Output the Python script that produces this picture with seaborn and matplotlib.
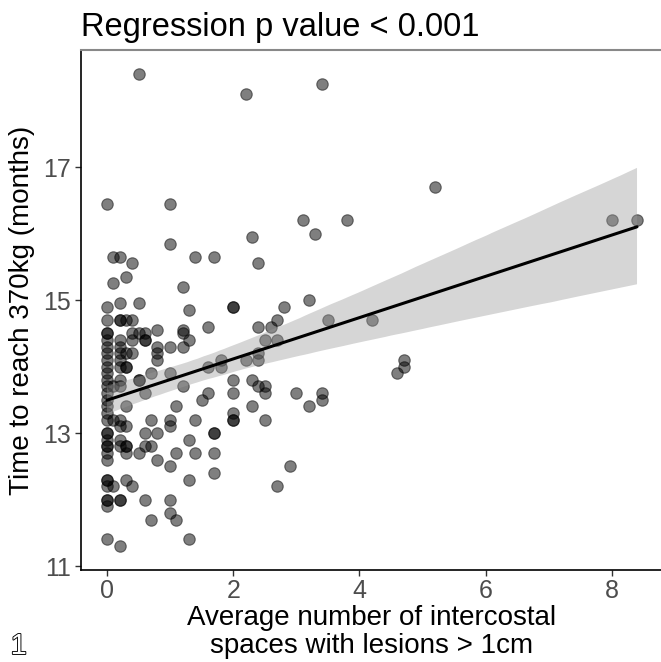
import numpy as np
import pandas as pd
import matplotlib
matplotlib.use("Agg")
import matplotlib.pyplot as plt
import matplotlib.patheffects as pe
import seaborn as sns

# average number of intercostal spaces with lesions > 1cm (x) and time to 370kg (y)
lesions = (
    [0.0] * 32 + [0.1] * 5 + [0.2] * 18 + [0.3] * 11 + [0.4] * 6 + [0.5] * 6
    + [0.6] * 7 + [0.7] * 4 + [0.8] * 6 + [1.0] * 9 + [1.1] * 3 + [1.2] * 5
    + [1.3] * 5 + [1.4] * 3 + [1.5] + [1.6] * 3 + [1.7] * 5 + [1.8] * 2
    + [2.0] * 7 + [2.2] * 2 + [2.3] * 3 + [2.4] * 5 + [2.5] * 4 + [2.6]
    + [2.7] * 3 + [2.8] + [2.9] + [3.0] + [3.1] + [3.2] * 2 + [3.3]
    + [3.4] * 3 + [3.5] + [3.8] + [4.2] + [4.6] + [4.7] * 2 + [5.2]
    + [8.0] + [8.4]
)
months = [
    # x = 0
    16.45, 14.9, 14.7, 14.5, 14.5, 14.4, 14.3, 14.2, 14.1, 14.0, 13.9, 13.8,
    13.7, 13.6, 13.5, 13.4, 13.3, 13.2, 13.0, 13.0, 12.9, 12.8, 12.8, 12.7,
    12.6, 12.3, 12.3, 12.2, 12.0, 12.0, 11.9, 11.4,
    # x = 0.1
    15.65, 15.25, 13.7, 13.2, 12.2,
    # x = 0.2
    15.65, 14.95, 14.7, 14.7, 14.4, 14.3, 14.2, 14.1, 14.0, 13.8, 13.7, 13.2,
    13.1, 12.9, 12.8, 12.0, 12.0, 11.3,
    # x = 0.3
    15.35, 14.7, 14.2, 14.0, 14.0, 13.4, 13.1, 12.8, 12.8, 12.7, 12.3,
    # x = 0.4
    15.55, 14.7, 14.5, 14.4, 14.2, 12.2,
    # x = 0.5
    18.4, 14.95, 14.5, 13.8, 13.8, 12.7,
    # x = 0.6
    14.5, 14.4, 14.4, 13.6, 13.0, 12.8, 12.0,
    # x = 0.7
    13.9, 13.2, 12.8, 11.7,
    # x = 0.8
    14.55, 14.3, 14.2, 14.1, 13.0, 12.6,
    # x = 1.0
    16.45, 15.85, 14.3, 13.9, 13.2, 13.1, 12.5, 12.0, 11.8,
    # x = 1.1
    13.4, 12.7, 11.7,
    # x = 1.2
    15.2, 14.55, 14.5, 14.3, 13.7,
    # x = 1.3
    14.85, 14.4, 12.9, 12.3, 11.4,
    # x = 1.4
    15.65, 13.2, 12.7,
    # x = 1.5
    13.5,
    # x = 1.6
    14.6, 14.0, 13.6,
    # x = 1.7
    15.65, 13.0, 13.0, 12.7, 12.4,
    # x = 1.8
    14.1, 14.0,
    # x = 2.0
    14.9, 14.9, 13.8, 13.6, 13.3, 13.2, 13.2,
    # x = 2.2
    18.1, 14.1,
    # x = 2.3
    15.95, 13.8, 13.4,
    # x = 2.4
    15.55, 14.6, 14.2, 14.1, 13.7,
    # x = 2.5
    14.4, 13.7, 13.6, 13.2,
    # x = 2.6
    14.6,
    # x = 2.7
    14.7, 14.4, 12.2,
    # x = 2.8 .. 8.4
    14.9, 12.5, 13.6, 16.2, 15.0, 13.4, 16.0, 18.25, 13.6, 13.5, 14.7, 16.2,
    14.7, 13.9, 14.1, 14.0, 16.7, 16.2, 16.2,
]

x_ticks = [0, 2, 4, 6, 8]
y_ticks = [11, 13, 15, 17]

df = pd.DataFrame({"lesions": lesions, "months": months})

sns.set_theme(style="white")
plt.rcParams["font.family"] = ["Liberation Sans", "DejaVu Sans"]

fig = plt.figure(figsize=(6.61, 6.62), dpi=100)
ax = fig.add_axes([0.1218, 0.1394, 0.882, 0.7846])

sns.regplot(data=df, x="lesions", y="months", ax=ax, ci=95, n_boot=2000, seed=3,
            scatter_kws=dict(s=68, color="black", alpha=0.5, edgecolor="black",
                             linewidths=0.8),
            line_kws=dict(color="black", linewidth=2.2))

# ggplot-like grey confidence band
for coll in ax.collections[1:]:
    coll.set_alpha(0.4)
    coll.set_facecolor((0.6, 0.6, 0.6))
    coll.set_edgecolor("none")

ax.set_xlim(-0.42, 8.82)
ax.set_ylim(10.945, 18.755)
ax.set_xticks(x_ticks)
ax.set_yticks(y_ticks)
ax.tick_params(axis="both", which="both", length=4, width=1.0, color="#333333",
               labelsize=18, labelcolor="#4d4d4d", bottom=True, left=True, pad=3)

for side in ["left", "bottom"]:
    ax.spines[side].set_color("black")
    ax.spines[side].set_linewidth(1.2)
ax.spines["top"].set_color("#888888")
ax.spines["top"].set_linewidth(1.5)
ax.spines["right"].set_visible(False)

ax.set_xlabel("Average number of intercostal\nspaces with lesions > 1cm",
              fontsize=20, color="black", labelpad=1, linespacing=1.1)
ax.set_ylabel("Time to reach 370kg (months)", fontsize=20, color="black",
              labelpad=6)
ax.set_title("Regression p value < 0.001", fontsize=23.5, loc="left", x=0.0,
             pad=10, color="black")

fig.text(0.016, 0.012, "1", fontsize=21, color="white",
         path_effects=[pe.withStroke(linewidth=1.3, foreground="black")])

fig.savefig("out.png", dpi=100)
